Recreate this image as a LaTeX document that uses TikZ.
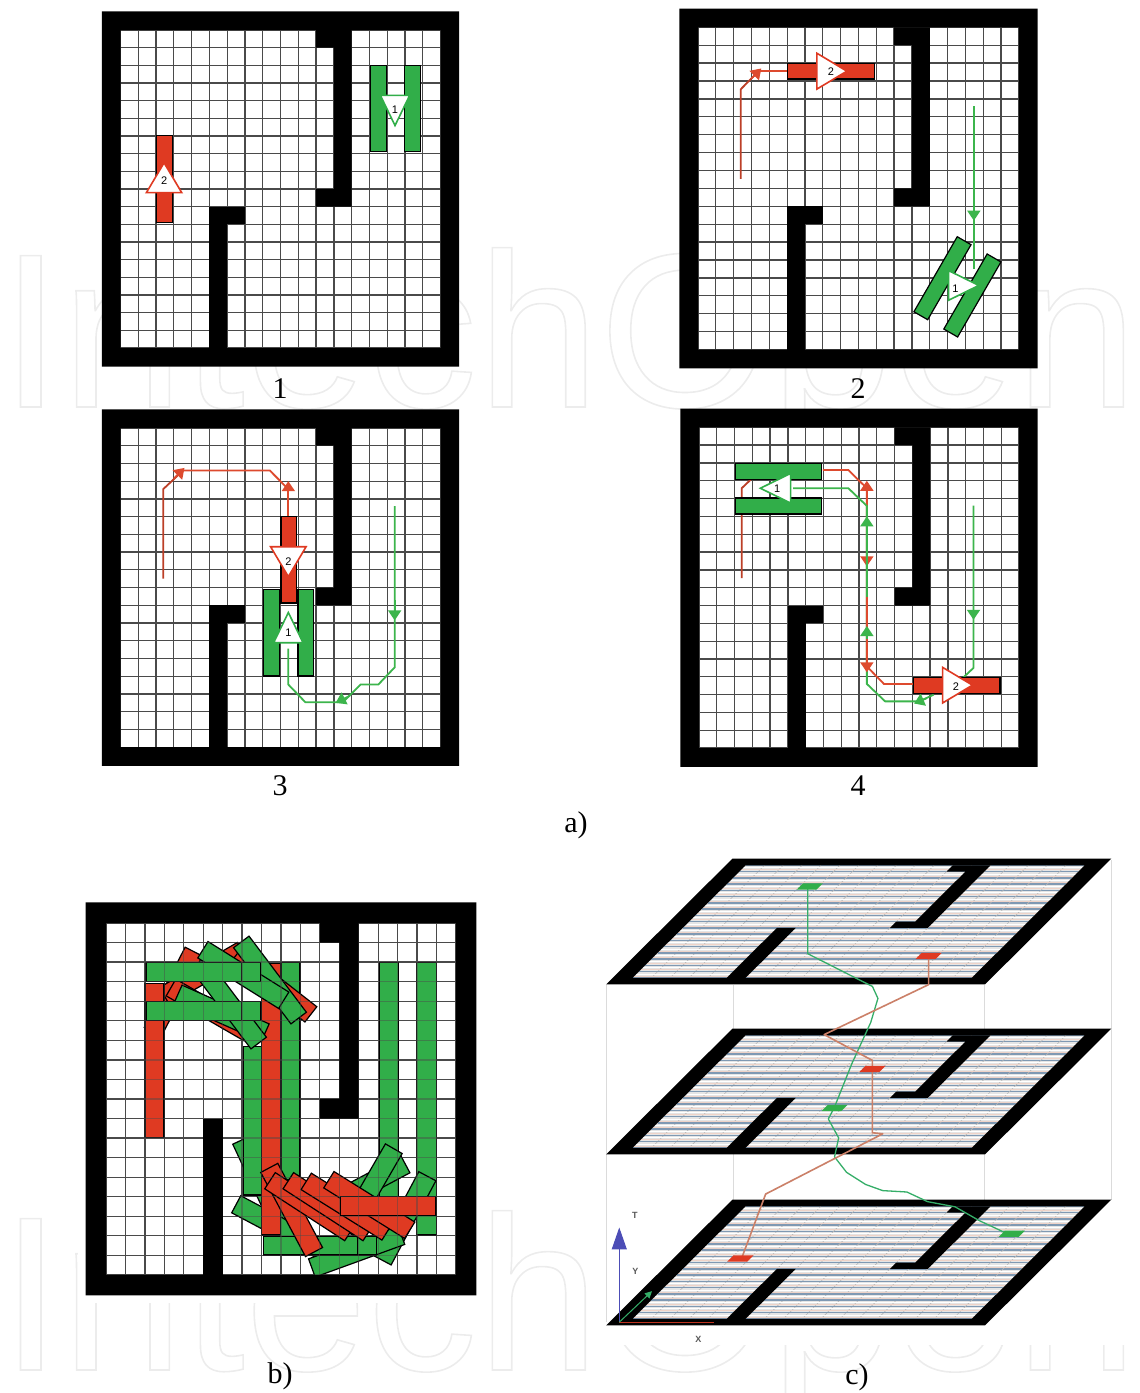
\documentclass[tikz,border=0pt]{standalone}
\usepackage{fontspec}
\usepackage{xcolor}
\usetikzlibrary{arrows.meta}
\newfontfamily\sansfont{Liberation Sans}
\newfontfamily\capfont{Liberation Serif}
\definecolor{CarRed}    {HTML}{DF3A22}
\definecolor{CarGreen}  {HTML}{31AE49}
\definecolor{PathRed}   {HTML}{DD4A2E}
\definecolor{PathGreen} {HTML}{3CB54C}
\definecolor{GridGray}  {HTML}{4A4A4A}
\definecolor{TraceRed}  {HTML}{CB8068}
\definecolor{TraceGreen}{HTML}{35AE68}
\definecolor{RowBlue}   {HTML}{7F99B3}
\definecolor{RowPink}   {HTML}{EFD3C8}
\definecolor{AxisBlue}  {HTML}{4C4DB6}
\definecolor{MarkGray}  {HTML}{ECECEC}
\tikzset{
  gridline/.style={draw=GridGray,line width=1.3pt},
  barline/.style={draw=black,line width=1.2pt},
  carlabel/.style={font=\sansfont\fontsize{11}{11}\selectfont,inner sep=0pt},
  panellabel/.style={font=\capfont\fontsize{30}{31}\selectfont,inner sep=0pt},
  redpath/.style={draw=PathRed,line width=1.8pt},
  greenpath/.style={draw=PathGreen,line width=1.8pt},
  redtip/.style={redpath,-{Triangle[length=10pt,width=13pt]}},
  greentip/.style={greenpath,-{Triangle[length=10pt,width=13pt]}},
  barred/.style={barline,fill=CarRed},
  bargreen/.style={barline,fill=CarGreen},
  redcar/.pic={\draw[barred] (-2.43,-.44) rectangle (2.43,.44);},
  greencar/.pic={\draw[bargreen] (-2.43,.52) rectangle (2.43,1.41);
                 \draw[bargreen] (-2.43,-1.41) rectangle (2.43,-.52);},
  redmark/.pic={\draw[draw=CarRed,fill=white,line width=1.6pt]
                (.88,0) -- (-.8,1) -- (-.8,-1) -- cycle;},
  greenmark/.pic={\draw[draw=CarGreen,fill=white,line width=1.6pt]
                  (.95,0) -- (-.75,.83) -- (-.75,-.83) -- cycle;},
  tracered/.style={draw=TraceRed,line width=1.6pt,line join=round},
  tracegreen/.style={draw=TraceGreen,line width=1.3pt,line join=round},
  boxedge/.style={draw=black!14,line width=.6pt},
}
% one maze, in cells: inner field from (0,0) to (18,18)
\newcommand{\mazegrid}{%
  \fill[white] (0,0) -- (18,0) -- (18,18) -- (0,18) -- cycle;
  \foreach \i in {0,...,18}{
    \draw[gridline] (\i,0) -- (\i,18);
    \draw[gridline] (0,\i) -- (18,\i);
  }}
\newcommand{\mazewalls}{%
  \fill[black,even odd rule] (-1.05,-1.05) -- (19.05,-1.05) -- (19.05,19.05) -- (-1.05,19.05) -- cycle
    (0,0) -- (18,0) -- (18,18) -- (0,18) -- cycle;
  \fill[black] (11,0) -- (13,0) -- (13,10) -- (11,10) -- (11,9) -- (12,9)
    -- (12,1) -- (11,1) -- cycle;
  \fill[black] (5,18) -- (5,10) -- (6,10) -- (6,18) -- cycle;}
\newcommand{\mazecap}{\fill[black] (6,10) -- (7,10) -- (7,11) -- (6,11) -- cycle;}
% a flat board of panel c)
\newcommand{\flatboard}{%
  \fill[white!90!black] (0,0) -- (18,0) -- (18,18) -- (0,18) -- cycle;
  \foreach \i in {0,...,18}{
    \draw[draw=black!28,line width=.6pt] (\i,0) -- (\i,18);
    \draw[draw=RowBlue,line width=1.5pt] (0,\i) -- (18,\i);
  }
  \foreach \i in {0,...,17}{
    \draw[draw=white,line width=1pt] (0,\i+.4) -- (18,\i+.4);
    \draw[draw=RowPink,line width=.8pt] (0,\i+.72) -- (18,\i+.72);
  }
  \mazewalls}
\newcommand{\flatcar}[3]{\fill[#1] (#2-38,#3+9) -- (#2+20,#3+9) -- (#2+38,#3-9)
  -- (#2-20,#3-9) -- cycle;}

\begin{document}
\begin{tikzpicture}[x=1pt,y=-1pt]
  \useasboundingbox (0,0) rectangle (1140,1393);

  % faint lettering behind everything
  \node[anchor=base west,inner sep=0pt,text=MarkGray] (markup) at (0,407)
    {\fontsize{220}{220}\selectfont\sansfont\special{pdf:code 1 Tr 1.6 w}IntechOpen\special{pdf:code 0 Tr}};
  \node[anchor=base west,inner sep=0pt,text=MarkGray] (marklow) at (0,1370)
    {\fontsize{220}{220}\selectfont\sansfont\special{pdf:code 1 Tr 1.6 w}IntechOpen\special{pdf:code 0 Tr}};

  % panel 1
  \begin{scope}[shift={(120.5,30)},x={(17.78pt,0pt)},y={(0pt,-17.67pt)}]
    \mazegrid
    \mazewalls
    \mazecap
    \pic[rotate=90] at (2.47,8.43) {redcar};
    \pic[rotate=90] at (2.45,8.4) {redmark};
    \node[carlabel] (numaa) at (2.45,8.5) {2};
    \pic[rotate=-90] at (15.47,4.45) {greencar};
    \pic[rotate=-90] at (15.44,4.45) {greenmark};
    \node[carlabel] (numab) at (15.44,4.5) {1};
  \end{scope}

  % panel 2
  \begin{scope}[shift={(698,27.3)},x={(17.83pt,0pt)},y={(0pt,-17.9pt)}]
    \mazegrid
    \mazewalls
    \mazecap
    \draw[redpath,draw=PathRed!85!black] (2.4,8.47) -- (2.4,3.46) -- (3.2,2.65);
    \draw[redtip] (3,2.85) -- (3.55,2.3);
    \draw[redpath] (3.4,2.45) -- (5.04,2.45);
    \pic at (7.47,2.45) {redcar};
    \pic at (7.47,2.45) {redmark};
    \node[carlabel] (numba) at (7.45,2.5) {2};
    \pic[rotate=60] at (14.55,14.5) {greencar};
    \draw[greenpath] (15.47,4.4) -- (15.47,13.5);
    \draw[greentip] (15.47,9.6) -- (15.47,10.8);
    \pic at (14.8,14.42) {greenmark};
    \node[carlabel] (numbb) at (14.44,14.58) {1};
  \end{scope}

  % panel 3
  \begin{scope}[shift={(120.5,428)},x={(17.78pt,0pt)},y={(0pt,-17.73pt)}]
    \mazegrid
    \mazewalls
    \mazecap
    \draw[redpath,draw=PathRed!85!black] (2.4,8.49) -- (2.4,3.45) -- (3.2,2.7);
    \draw[redtip] (3,2.85) -- (3.6,2.25);
    \draw[redpath] (3.4,2.4) -- (8.4,2.4) -- (9.44,3.45);
    \draw[redpath] (9.44,3.45) -- (9.44,5);
    \draw[redtip] (9.44,3.6) -- (9.44,3);
    \pic[rotate=-90] at (9.47,7.43) {redcar};
    \pic[rotate=90] at (9.47,11.55) {greencar};
    \pic[rotate=-90] at (9.44,7.5) {redmark};
    \node[carlabel] (numca) at (9.44,7.55) {2};
    \pic[rotate=90] at (9.44,11.36) {greenmark};
    \node[carlabel] (numcb) at (9.44,11.55) {1};
    \draw[greenpath] (15.42,4.4) -- (15.42,13.5) -- (14.5,14.47) -- (13.5,14.47)
      -- (12.5,15.47) -- (10.4,15.47) -- (9.44,14.47) -- (9.44,12.45);
    \draw[greentip] (15.42,9.7) -- (15.42,10.85);
    \draw[greentip] (12.9,15.1) -- (12.1,15.5);
  \end{scope}

  % panel 4
  \begin{scope}[shift={(699,427.3)},x={(17.78pt,0pt)},y={(0pt,-17.82pt)}]
    \mazegrid
    \mazewalls
    \mazecap
    \draw[redpath,draw=PathRed!85!black] (2.4,8.47) -- (2.4,3.42) -- (3,2.85);
    \draw[redpath] (6.96,2.4) -- (8.4,2.4) -- (9.44,3.42) -- (9.44,13.42)
      -- (10.4,14.4) -- (12.06,14.4);
    \draw[redtip] (9.44,3.6) -- (9.44,3);
    \draw[redtip] (9.44,7.2) -- (9.44,7.8);
    \draw[greenpath] (15.44,4.4) -- (15.44,13.5) -- (14.8,14.1);
    \draw[greenpath] (13.2,15) -- (12.4,15.38) -- (10.47,15.38) -- (9.44,14.4)
      -- (9.44,4.41) -- (8.4,3.42) -- (5.3,3.42);
    \draw[greentip] (15.44,9.6) -- (15.44,10.8);
    \draw[greentip] (9.44,5.7) -- (9.44,5);
    \draw[greentip] (12.8,15.2) -- (12.1,15.5);
    \draw[redpath] (9.44,9.5) -- (9.44,13.42);
    \draw[greentip] (9.44,11.9) -- (9.44,11.15);
    \draw[redtip] (9.44,12.9) -- (9.44,13.75);
    \pic at (4.48,3.45) {greencar};
    \pic[rotate=180] at (4.4,3.42) {greenmark};
    \node[carlabel] (numda) at (4.4,3.47) {1};
    \pic at (14.5,14.48) {redcar};
    \pic at (14.5,14.47) {redmark};
    \node[carlabel] (numdb) at (14.45,14.55) {2};
  \end{scope}

  \node[panellabel] (labone) at (280,389) {1};
  \node[panellabel] (labtwo) at (858,389) {2};
  \node[panellabel] (labthree) at (280,786) {3};
  \node[panellabel] (labfour) at (858,786) {4};
  \node[panellabel] (laba) at (576,825) {a)};

  % panel b)
  \fill[white] (78,896) rectangle (484,1303);
  \begin{scope}[shift={(106,923)},x={(19.44pt,0pt)},y={(0pt,-19.55pt)}]
    \mazegrid
  \end{scope}
  \begin{scope}[shift={(70,890)},x={(.3333pt,0pt)},y={(0pt,-.3333pt)}]
    \foreach \cx/\cy/\ang in {310/305/63,400/250/30,420/360/-30}
      \draw[barred,shift={(\cx,\cy)},rotate=\ang] (-135,-29) rectangle (135,29);
    \draw[barred] (225,280) rectangle (282,743);
    \foreach \cx/\cy/\ang in {575/880/-65,630/820/-60,625/1010/-28}
      \draw[bargreen,shift={(\cx,\cy)},rotate=\ang] (-143,-29) rectangle (143,29);
    \draw[bargreen] (633,217) rectangle (690,870);
    \draw[bargreen] (520,470) rectangle (575,915);
    \draw[bargreen] (928,217) rectangle (985,920);
    \draw[bargreen] (1040,217) rectangle (1100,1035);
    \draw[barred] (575,220) rectangle (632,1035);
    \draw[barred,shift={(610,285)},rotate=142] (-143,-29) rectangle (143,29);
    \foreach \cx/\cy/\ang in {455/370/-24,480/345/-53,600/270/-53,520/255/-32}
      \draw[bargreen,shift={(\cx,\cy)},rotate=\ang] (-143,-29) rectangle (143,29);
    \foreach \yy in {218,335}{
      \draw[bargreen] (285,\yy) rectangle (572,\yy+57);
      \draw[bargreen] (228,\yy) rectangle (515,\yy+57);
    }
    \foreach \cx/\cy/\ang in {880/890/28,900/900/60,1005/985/62,860/1085/20}
      \draw[bargreen,shift={(\cx,\cy)},rotate=\ang] (-143,-29) rectangle (143,29);
    \draw[bargreen] (637,1040) rectangle (920,1095);
    \draw[bargreen] (580,1040) rectangle (862,1095);
    \foreach \cx/\cy/\ang in {665/960/-62,720/950/-33,775/950/-33,830/950/-32,898/945/-32}
      \draw[barred,shift={(\cx,\cy)},rotate=\ang] (-143,-29) rectangle (143,29);
    \draw[barred] (812,920) rectangle (1098,977);
  \end{scope}
  \begin{scope}[shift={(106,923)},x={(19.44pt,0pt)},y={(0pt,-19.55pt)}]
    \foreach \i in {0,...,18}{
      \draw[gridline,opacity=.45] (\i,0) -- (\i,18);
      \draw[gridline,opacity=.45] (0,\i) -- (18,\i);
    }
    \mazewalls
  \end{scope}
  \node[panellabel] (labb) at (280,1376) {b)};

  % panel c), three boards one above the other
  \fill[white] (596,845) rectangle (1125,1345);
  \draw[boxedge] (606.5,985) -- (606.5,1322);
  \draw[boxedge] (733,985) -- (733,1200);
  \draw[boxedge] (984,985) -- (984,1322);
  \draw[boxedge] (1111.7,860) -- (1111.7,1200);
  \foreach \boardtop in {1200,1029,859}{
    \begin{scope}[shift={(745.6,\boardtop+6.25)},x={(18.85pt,0pt)},y={(-6.28pt,-6.25pt)}]
      \flatboard
    \end{scope}
  }
  \begin{scope}[shift={(590,840)},x={(.3444pt,0pt)},y={(0pt,-.3444pt)}]
    \draw[tracegreen] (632,140) -- (632,330) -- (780,405) -- (820,425) -- (836,460)
      -- (815,530) -- (760,650) -- (710,775) -- (692,810) -- (722,865) -- (710,920)
      -- (745,965) -- (800,1000) -- (850,1018) -- (920,1022) -- (980,1050)
      -- (1060,1065) -- (1130,1105) -- (1205,1140);
    \draw[tracered] (983,337) -- (983,420) -- (680,565) -- (820,640) -- (820,850)
      -- (850,853) -- (710,925) -- (510,1028) -- (440,1215);
    \flatcar{CarGreen}{638}{135}
    \flatcar{CarRed}{983}{337}
    \flatcar{CarRed}{820}{665}
    \flatcar{CarGreen}{710}{778}
    \flatcar{CarGreen}{1225}{1143}
    \flatcar{CarRed}{437}{1215}
    % axes
    \draw[AxisBlue,line width=1.1pt,-{Triangle[length=22pt,width=15pt]}] (85,1400) -- (85,1125);
    \draw[CarRed!85!black,line width=1pt] (85,1400) -- (360,1400);
    \draw[TraceGreen,line width=1pt,-{Triangle[length=7pt,width=7pt]}] (85,1400) -- (180,1310);
    \node[carlabel,font=\sansfont\bfseries\fontsize{9}{9}\selectfont,text=black!65] (axist) at (130,1090) {T};
    \node[carlabel,font=\sansfont\bfseries\fontsize{9}{9}\selectfont,text=black!65] (axisy) at (132,1253) {Y};
    \node[carlabel,font=\sansfont\bfseries\fontsize{9}{9}\selectfont,text=black!65] (axisx) at (315,1450) {X};
  \end{scope}
  \node[panellabel] (labc) at (857,1377) {c)};
\end{tikzpicture}
\end{document}
